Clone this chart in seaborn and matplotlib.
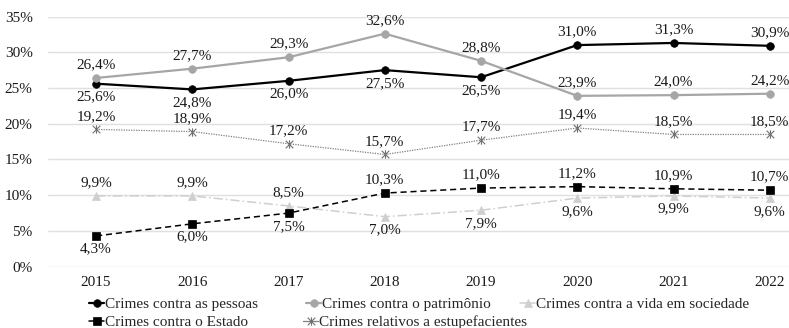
import matplotlib
matplotlib.use("Agg")
import matplotlib.pyplot as plt
import seaborn as sns
import pandas as pd
from matplotlib.lines import Line2D
from matplotlib.path import Path

years = ["2015", "2016", "2017", "2018", "2019", "2020", "2021", "2022"]
pessoas = [25.6, 24.8, 26.0, 27.5, 26.5, 31.0, 31.3, 30.9]
patrimonio = [26.4, 27.7, 29.3, 32.6, 28.8, 23.9, 24.0, 24.2]
vida = [9.9, 9.9, 8.5, 7.0, 7.9, 9.6, 9.9, 9.6]
estado = [4.3, 6.0, 7.5, 10.3, 11.0, 11.2, 10.9, 10.7]
estupef = [19.2, 18.9, 17.2, 15.7, 17.7, 19.4, 18.5, 18.5]
series_names = [
    "Crimes contra as pessoas",
    "Crimes contra o patrimônio",
    "Crimes contra a vida em sociedade",
    "Crimes contra o Estado",
    "Crimes relativos a estupefacientes",
]
yticks = [0, 5, 10, 15, 20, 25, 30, 35]

sns.set_theme(style="white")
plt.rcParams["font.family"] = ["Liberation Serif", "DejaVu Serif"]

W, H = 789, 328
fig = plt.figure(figsize=(W / 100, H / 100), dpi=100)
ax = fig.add_axes([48 / W, 1 - 266.7 / H, 1 - 48 / W, (266.7 - 16.5) / H])

xpos = list(range(len(years)))
all_vals = [pessoas, patrimonio, vida, estado, estupef]

star = Path([(-1, -1), (1, 1), (-1, 1), (1, -1), (0, -1.1), (0, 1.1)],
            [Path.MOVETO, Path.LINETO, Path.MOVETO, Path.LINETO, Path.MOVETO, Path.LINETO])

styles = [
    dict(color="black", lw=1.6, ls="-", marker="o", ms=5.5, mfc="black", mec="black", mew=0.5),
    dict(color="#a6a6a6", lw=1.6, ls="-", marker="o", ms=5.5, mfc="#a6a6a6", mec="#a6a6a6", mew=0.5),
    dict(color="#cfcfcf", lw=1.1, ls=(0, (6, 2, 1, 2)), marker="^", ms=5.5, mfc="#cfcfcf", mec="#cfcfcf", mew=0.5),
    dict(color="black", lw=1.1, ls=(0, (4, 2.5)), marker="s", ms=6.0, mfc="black", mec="black", mew=0.5),
    dict(color="#808080", lw=0.9, ls=(0, (1, 1)), marker=star, ms=6.0, mfc="none", mec="#707070", mew=0.8),
]

# label placement: +1 above, -1 below
placement = [
    [-1, -1, -1, -1, -1, 1, 1, 1],
    [1, 1, 1, 1, 1, 1, 1, 1],
    [1, 1, 1, -1, -1, -1, -1, -1],
    [-1, -1, -1, 1, 1, 1, 1, 1],
    [1, 1, 1, 1, 1, 1, 1, 1],
]

handles = []
for vals, st, name, plc in zip(all_vals, styles, series_names, placement):
    df = pd.DataFrame({"x": xpos, "y": vals})
    sns.lineplot(data=df, x="x", y="y", ax=ax, color=st["color"], linewidth=st["lw"],
                 linestyle=st["ls"], marker=st["marker"], markersize=st["ms"],
                 markerfacecolor=st["mfc"], markeredgecolor=st["mec"], markeredgewidth=st["mew"],
                 zorder=3)
    for x, v, p in zip(xpos, vals, plc):
        ax.annotate(f"{v:.1f}%".replace(".", ","), (x, v), xytext=(0, 9.5 * p),
                    textcoords="offset points", ha="center", va="center", fontsize=11,
                    color="#1a1a1a", zorder=5)
    handles.append(Line2D([0], [0], color=st["color"], lw=st["lw"], ls="-",
                          marker=st["marker"], ms=st["ms"], mfc=st["mfc"], mec=st["mec"],
                          mew=st["mew"]))

ax.set_xlim(-0.5, 7.2)
ax.set_ylim(0, 35)
ax.set_xticks(xpos)
ax.set_xticklabels(years, fontsize=11)
ax.set_yticks(yticks)
ax.set_yticklabels([f"{t}%" for t in yticks], fontsize=11)
ax.tick_params(axis="both", length=0, colors="#1a1a1a")
ax.tick_params(axis="y", pad=11)
ax.tick_params(axis="x", pad=7)
ax.set_xlabel("")
ax.set_ylabel("")
ax.grid(axis="y", color="#e0e0e0", lw=1.0)
ax.set_axisbelow(True)
for s in ax.spines.values():
    s.set_visible(False)

# legend entries placed individually
leg_pos = [(89, 304), (306, 304), (520, 304), (89, 322), (303, 322)]
for h, name, (lx, ly) in zip(handles, series_names, leg_pos):
    fig.legend(handles=[h], labels=[name], loc="center left",
               bbox_to_anchor=(lx / W, 1 - ly / H), frameon=False, borderpad=0,
               borderaxespad=0, handlelength=1.0, handletextpad=0.05, fontsize=11)

fig.savefig("out.png", dpi=100)
